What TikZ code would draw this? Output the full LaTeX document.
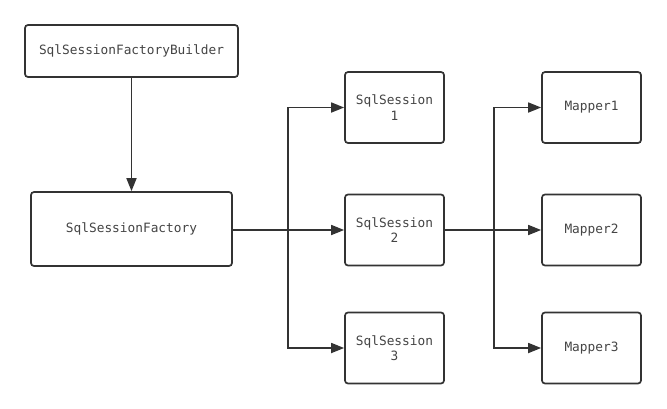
\documentclass[tikz,border=0pt]{standalone}
\usepackage{fontspec}
\setmonofont{DejaVu Sans Mono}
\usetikzlibrary{positioning,arrows.meta}
\definecolor{inkc}{HTML}{333333}
\definecolor{txtc}{HTML}{444444}
\tikzset{
  objbox/.style={draw=inkc,line width=1.7pt,rounded corners=3pt,fill=white,
    text=txtc,font=\ttfamily\fontsize{12.8}{15.5}\selectfont,align=center,inner sep=0pt},
  link/.style={draw=inkc,line width=1.7pt,-{Triangle[length=13pt,width=10pt]}},
}
\begin{document}
\begin{tikzpicture}[x=1pt,y=-1pt]
  \useasboundingbox (0,0) rectangle (667,408);
  % builder and factory
  \node[objbox,minimum width=213pt,minimum height=52pt] (bld) at (131.5,51) {SqlSessionFactoryBuilder};
  \node[objbox,minimum width=201pt,minimum height=74pt] (fac) at (131.5,229) {SqlSessionFactory};
  % sessions
  \node[objbox,minimum width=99pt,minimum height=71pt] (ses1) at (394.5,107.5) {SqlSession\\1};
  \node[objbox,minimum width=99pt,minimum height=71pt] (ses2) at (394.5,230) {SqlSession\\2};
  \node[objbox,minimum width=99pt,minimum height=71pt] (ses3) at (394.5,348) {SqlSession\\3};
  % mappers
  \node[objbox,minimum width=99pt,minimum height=71pt] (map1) at (591.5,107.5) {Mapper1};
  \node[objbox,minimum width=99pt,minimum height=71pt] (map2) at (591.5,230) {Mapper2};
  \node[objbox,minimum width=99pt,minimum height=71pt] (map3) at (591.5,348) {Mapper3};
  % branch points
  \coordinate (forkA) at (288,230);
  \coordinate (forkB) at (494,230);
  % connectors
  \draw[link] (bld) -- (fac);
  \draw[link] (fac.east |- ses2.west) -- (ses2.west);
  \draw[link] (forkA) |- (ses1.west);
  \draw[link] (forkA) |- (ses3.west);
  \draw[link] (ses2.east) -- (map2.west);
  \draw[link] (forkB) |- (map1.west);
  \draw[link] (forkB) |- (map3.west);
\end{tikzpicture}
\end{document}
